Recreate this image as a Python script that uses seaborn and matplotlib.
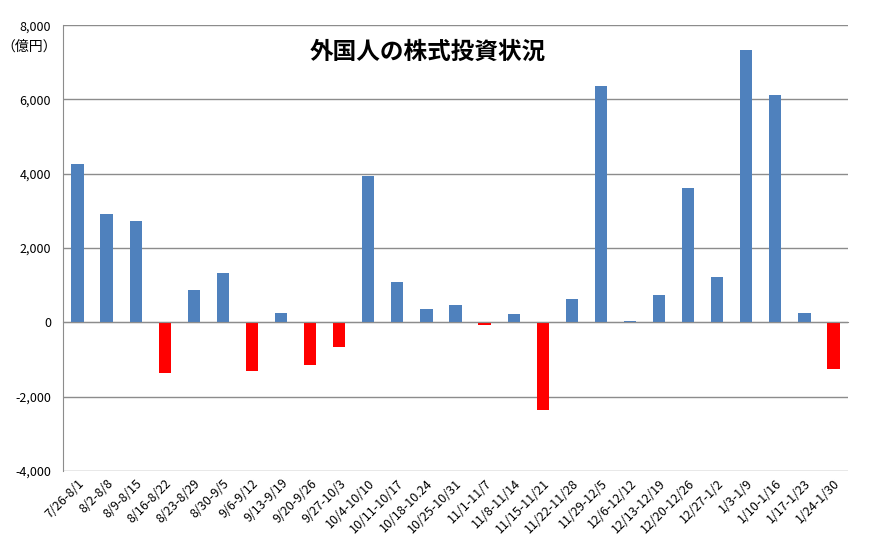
import numpy as np
import pandas as pd
import seaborn as sns
import matplotlib.pyplot as plt
from matplotlib.ticker import FuncFormatter, FixedLocator

# Data
weeks = [
    "7/26-8/1", "8/2-8/8", "8/9-8/15", "8/16-8/22", "8/23-8/29",
    "8/30-9/5", "9/6-9/12", "9/13-9/19", "9/20-9/26", "9/27-10/3",
    "10/4-10/10", "10/11-10/17", "10/18-10.24", "10/25-10/31",
    "11/1-11/7", "11/8-11/14", "11/15-11/21", "11/22-11/28",
    "11/29-12/5", "12/6-12/12", "12/13-12/19", "12/20-12/26",
    "12/27-1/2", "1/3-1/9", "1/10-1/16", "1/17-1/23", "1/24-1/30",
]
net_buy = [
    4250, 2930, 2740, -1370, 860,
    1320, -1320, 250, -1160, -670,
    3930, 1080, 350, 460,
    -80, 220, -2370, 620,
    6350, 50, 750, 3630,
    1210, 7340, 6110, 240, -1260,
]

df = pd.DataFrame({"week": weeks, "value": net_buy})
df["sign"] = np.where(df["value"] >= 0, "pos", "neg")

sns.set_style("white")
plt.rcParams["font.family"] = ["Noto Sans CJK JP", "DejaVu Sans"]
plt.rcParams["text.color"] = "black"
plt.rcParams["xtick.labelcolor"] = "black"
plt.rcParams["ytick.labelcolor"] = "black"

fig = plt.figure(figsize=(8.72, 5.59), dpi=100)
ax = fig.add_axes([0.0722, 0.1574, 0.9003, 0.7976])

sns.barplot(
    data=df,
    x="week",
    y="value",
    hue="sign",
    palette={"pos": "#4F81BD", "neg": "#FF0000"},
    dodge=False,
    width=0.42,
    saturation=1,
    linewidth=0,
    legend=False,
    ax=ax
)

ax.set_ylim(-4000, 8000)
ax.set_xlim(-0.5, len(weeks) - 0.5)
ax.set_yticks(np.arange(-4000, 8001, 2000))
ax.yaxis.set_major_formatter(FuncFormatter(lambda v, p: f"{int(v):,}"))
ax.grid(axis="y", color="#8c8c8c", linewidth=1)
ax.set_axisbelow(True)

# spines: horizontal axis crosses at zero
for s in ["top", "right"]:
    ax.spines[s].set_visible(False)
ax.spines["left"].set_color("#8c8c8c")
ax.spines["bottom"].set_color("#8c8c8c")
ax.spines["bottom"].set_position(("data", 0))

# x ticks between categories, labels below the plot area
ax.set_xlabel("")
ax.set_ylabel("")
ax.set_xticks(range(len(weeks)))
ax.set_xticklabels(weeks, rotation=45, ha="right", rotation_mode="anchor", fontsize=9)
ax.tick_params(axis="x", which="major", length=0, pad=111)
ax.xaxis.set_minor_locator(FixedLocator(np.arange(0.5, len(weeks), 1)))
ax.tick_params(axis="x", which="minor", length=5, color="#8c8c8c", direction="out")
ax.tick_params(axis="y", length=5, color="#8c8c8c", direction="out", labelsize=9)

ax.text(0.465, 0.94, "外国人の株式投資状況", transform=ax.transAxes,
        ha="center", va="center", fontsize=17, fontweight="bold", color="black")
fig.text(0.002, 0.917, "（億円）", fontsize=10, ha="left", va="center")

fig.savefig("out.png", dpi=100)
